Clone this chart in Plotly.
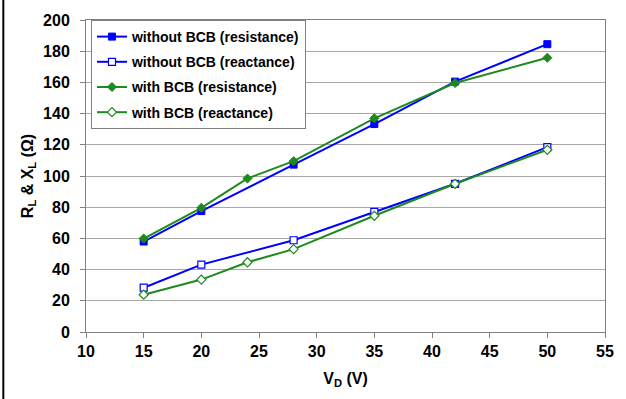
import plotly.graph_objects as go

vd_wo = [15, 20, 28, 35, 42, 50]
wo_res = [58, 77.5, 107.3, 133.3, 160.5, 184.5]
wo_react = [28.4, 43.2, 58.8, 77, 95, 118.5]

vd_w = [15, 20, 24, 28, 35, 42, 50]
w_res = [59.9, 79.6, 98.4, 109.5, 137, 159.6, 175.8]
w_react = [23.9, 33.6, 44.7, 53.1, 74.5, 95, 116.8]

x_ticks = [10, 15, 20, 25, 30, 35, 40, 45, 50, 55]
y_ticks = [0, 20, 40, 60, 80, 100, 120, 140, 160, 180, 200]

BLUE = "#0000ff"
GREEN = "#1e8a1e"
FAM = "Liberation Sans, Arial, sans-serif"

fig = go.Figure()
fig.add_trace(go.Scatter(x=vd_wo, y=wo_res, mode="lines+markers", name="without BCB (resistance)",
                         legendgroup="a",
                         line=dict(color=BLUE, width=2),
                         marker=dict(symbol="square", size=7, color=BLUE, line=dict(color=BLUE, width=1))))
fig.add_trace(go.Scatter(x=vd_wo, y=wo_react, mode="lines+markers", name="without BCB (reactance)",
                         legendgroup="b",
                         line=dict(color=BLUE, width=2),
                         marker=dict(symbol="square", size=7, color="white", line=dict(color=BLUE, width=1.2))))
fig.add_trace(go.Scatter(x=vd_w, y=w_res, mode="lines+markers", name="with BCB (resistance)",
                         legendgroup="c",
                         line=dict(color=GREEN, width=2),
                         marker=dict(symbol="diamond", size=7, color=GREEN, line=dict(color=GREEN, width=1))))
fig.add_trace(go.Scatter(x=vd_w, y=w_react, mode="lines+markers", name="with BCB (reactance)",
                         legendgroup="d",
                         line=dict(color=GREEN, width=2),
                         marker=dict(symbol="diamond", size=7, color="white", line=dict(color=GREEN, width=1.2))))

fig.update_layout(
    width=626, height=399,
    margin=dict(l=86, r=19, t=17, b=67),
    paper_bgcolor="white", plot_bgcolor="white",
    font=dict(family=FAM, color="black"),
    showlegend=True,
    legend=dict(x=0.0096, y=1.0, xanchor="left", yanchor="top",
                bgcolor="white", bordercolor="#808080", borderwidth=1,
                font=dict(size=14, family=FAM, weight="bold"),
                tracegroupgap=4, itemwidth=30),
    xaxis=dict(range=[10, 55], tickvals=x_ticks, ticks="outside", ticklen=5, tickcolor="#808080",
               showgrid=False, zeroline=False, showline=True, linecolor="#808080", linewidth=1, mirror=True,
               tickfont=dict(size=16, family=FAM, weight="bold"),
               title=dict(text="V<sub>D</sub> (V)", font=dict(size=16, family=FAM, weight="bold"), standoff=13)),
    yaxis=dict(range=[0, 200], tickvals=y_ticks, ticks="outside", ticklen=5, tickcolor="#808080",
               ticklabelstandoff=7,
               showgrid=True, gridcolor="#a8a8a8", gridwidth=1, zeroline=False,
               showline=True, linecolor="#808080", linewidth=1, mirror=True,
               tickfont=dict(size=16, family=FAM, weight="bold"),
               title=dict(text="R<sub>L</sub> & X<sub>L</sub> (Ω)", font=dict(size=16, family=FAM, weight="bold"), standoff=5)),
)

# left black border of the original figure frame
fig.add_shape(type="line", xref="paper", yref="paper",
              x0=-(86 - 3) / 521, x1=-(86 - 3) / 521, y0=-0.3, y1=1.2,
              line=dict(color="black", width=2))

fig.write_html("out.html")
